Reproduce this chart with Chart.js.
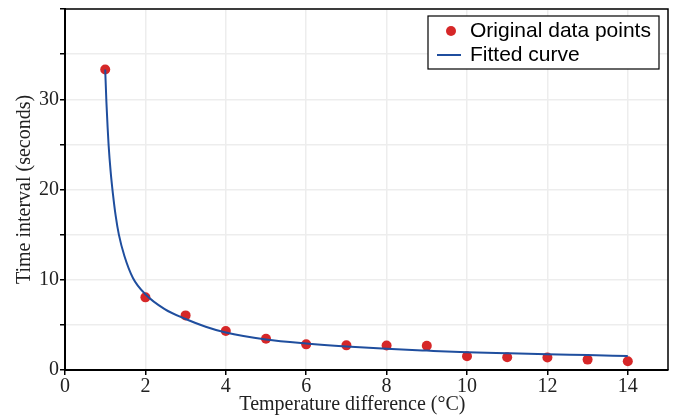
<!DOCTYPE html>
<html><head><meta charset="utf-8">
<script src="https://cdn.jsdelivr.net/npm/chart.js@4.4.0/dist/chart.umd.min.js"></script>
<style>html,body{margin:0;padding:0;background:#fff}</style>
</head><body>
<canvas id="c" width="673" height="417"></canvas>
<script>
// ---- data ----
const tempDiff = [1, 2, 3, 4, 5, 6, 7, 8, 9, 10, 11, 12, 13, 14];
const timeInterval = [33.3, 8.05, 6.05, 4.33, 3.47, 2.84, 2.73, 2.71, 2.68, 1.52, 1.42, 1.38, 1.15, 0.97];
const fitX = [1, 1.03, 1.06, 1.085, 1.135, 1.19, 1.26, 1.34, 1.48, 1.69, 2, 2.48, 3, 3.5, 4, 5, 6, 7, 8, 9, 10, 11, 12, 13, 14];
const fitY = [33.3, 29.7, 26.9, 24.9, 22.0, 19.6, 17.1, 15.0, 12.6, 10.2, 8.4, 6.75, 5.65, 4.8, 4.15, 3.38, 2.93, 2.6, 2.35, 2.15, 1.97, 1.85, 1.74, 1.65, 1.55];
const xTicks = [0, 2, 4, 6, 8, 10, 12, 14];
const yTicks = [0, 5, 10, 15, 20, 25, 30, 35, 40];
const yLabelTicks = [0, 10, 20, 30];
const seriesLabels = ['Original data points', 'Fitted curve'];
const xTitle = 'Temperature difference (\u00B0C)';
const yTitle = 'Time interval (seconds)';

const RED = '#d62728';
const BLUE = '#1f4e9e';
const SERIF = '"Liberation Serif", "Times New Roman", serif';
const SANS = '"Liberation Sans", Arial, sans-serif';

const extras = {
  id: 'extras',
  afterDraw(chart) {
    const { ctx, chartArea: a } = chart;
    const xs = chart.scales.x;
    ctx.save();
    // frame top/right
    ctx.strokeStyle = '#000';
    ctx.lineWidth = 1.5;
    ctx.beginPath();
    ctx.moveTo(a.left, a.top);
    ctx.lineTo(a.right, a.top);
    ctx.lineTo(a.right, a.bottom);
    ctx.stroke();
    // x title
    ctx.fillStyle = '#222';
    ctx.font = '20px ' + SERIF;
    ctx.textAlign = 'center';
    ctx.textBaseline = 'alphabetic';
    ctx.fillText(xTitle, xs.getPixelForValue(7) + 6, 410);
    // legend
    const bx = a.right - 240, by = a.top + 7, bw = 231, bh = 53;
    ctx.fillStyle = '#fff';
    ctx.fillRect(bx, by, bw, bh);
    ctx.strokeStyle = '#000';
    ctx.lineWidth = 1.2;
    ctx.strokeRect(bx, by, bw, bh);
    ctx.fillStyle = RED;
    ctx.beginPath();
    ctx.arc(bx + 23, by + 15, 5, 0, Math.PI * 2);
    ctx.fill();
    ctx.strokeStyle = BLUE;
    ctx.lineWidth = 2;
    ctx.beginPath();
    ctx.moveTo(bx + 9, by + 39);
    ctx.lineTo(bx + 33, by + 39);
    ctx.stroke();
    ctx.fillStyle = '#000';
    ctx.font = '21px ' + SANS;
    ctx.textAlign = 'left';
    ctx.textBaseline = 'middle';
    ctx.fillText(seriesLabels[0], bx + 42, by + 15);
    ctx.fillText(seriesLabels[1], bx + 42, by + 39);
    ctx.restore();
  }
};

new Chart(document.getElementById('c'), {
  type: 'scatter',
  data: {
    datasets: [
      {
        label: seriesLabels[1],
        data: fitX.map((x, i) => ({ x, y: fitY[i] })),
        showLine: true,
        borderColor: BLUE,
        borderWidth: 2,
        pointRadius: 0,
        cubicInterpolationMode: 'monotone',
        order: 0
      },
      {
        label: seriesLabels[0],
        data: tempDiff.map((x, i) => ({ x, y: timeInterval[i] })),
        backgroundColor: RED,
        borderColor: RED,
        pointRadius: 5,
        borderWidth: 0,
        order: 1
      }
    ]
  },
  options: {
    responsive: false,
    animation: false,
    layout: { padding: { top: 9, right: 4, left: 0, bottom: 0 } },
    plugins: { legend: { display: false }, tooltip: { enabled: false } },
    scales: {
      x: {
        type: 'linear', min: 0, max: 15,
        afterBuildTicks: s => { s.ticks = xTicks.map(v => ({ value: v })); },
        afterFit: s => { s.height = 47; s.paddingLeft = 0; s.paddingRight = 0; },
        grid: { color: '#ededed', lineWidth: 1.5, tickLength: 5, tickColor: '#000', tickWidth: 1.5 },
        border: { color: '#000', width: 2 },
        ticks: { font: { family: SERIF, size: 20 }, color: '#222', padding: 0, maxRotation: 0, autoSkip: false }
      },
      y: {
        type: 'linear', min: 0, max: 40,
        afterBuildTicks: s => { s.ticks = yTicks.map(v => ({ value: v })); },
        afterFit: s => { s.width = 65; s.paddingTop = 0; s.paddingBottom = 0; },
        grid: { color: '#ededed', lineWidth: 1.5, tickLength: 5, tickColor: '#000', tickWidth: 1.5 },
        border: { color: '#000', width: 2 },
        ticks: {
          font: { family: SERIF, size: 20 }, color: '#222', padding: 1, autoSkip: false,
          callback: v => yLabelTicks.includes(v) ? String(v) : ''
        },
        title: { display: true, text: yTitle, font: { family: SERIF, size: 20 }, color: '#222', padding: { top: 13, bottom: 0 } }
      }
    }
  },
  plugins: [extras]
});
</script>
</body></html>
